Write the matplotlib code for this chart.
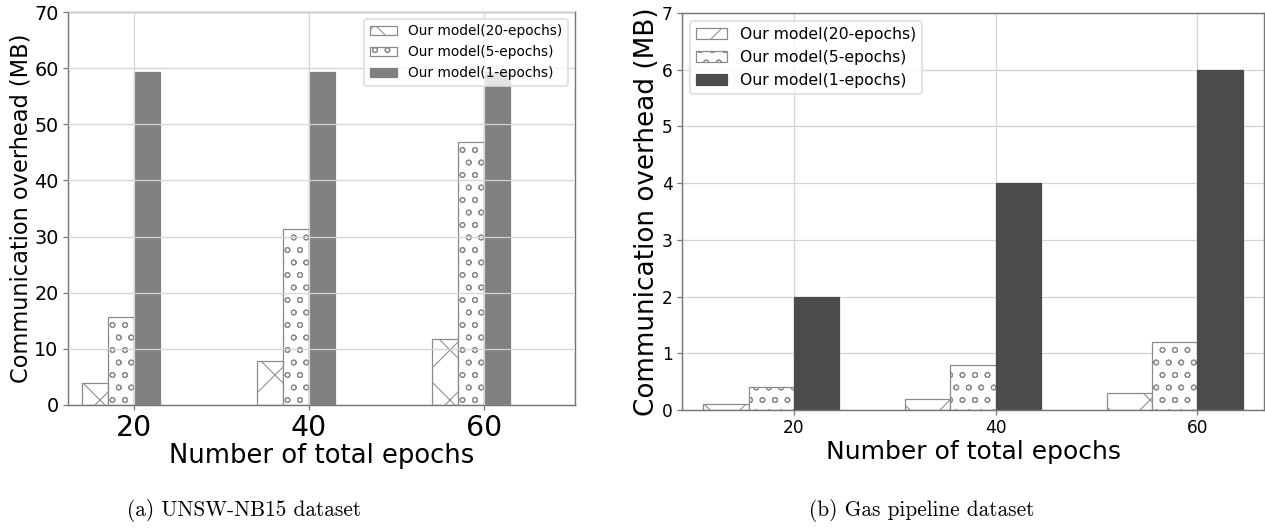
import matplotlib
matplotlib.use('Agg')
import matplotlib.pyplot as plt
import numpy as np

# values
epochs = [20, 40, 60]
labels = ["Our model(20-epochs)", "Our model(5-epochs)", "Our model(1-epochs)"]

unsw_20ep = [3.9, 7.9, 11.8]
unsw_5ep = [15.6, 31.3, 46.9]
unsw_1ep = [59.4, 59.4, 59.4]

gas_20ep = [0.1, 0.2, 0.3]
gas_5ep = [0.4, 0.8, 1.2]
gas_1ep = [2.0, 4.0, 6.0]

DPI = 150
plt.rcParams['hatch.linewidth'] = 0.5
plt.rcParams['font.family'] = ['DejaVu Sans']


def draw(ax, series, width, solid, fs, grid_on_top):
    x = np.array(epochs, dtype=float)
    hatches = ['x', 'oo', None]
    for i, (vals, lab) in enumerate(zip(series, labels)):
        pos = x - (2 - i) * width
        if hatches[i] is None:
            ax.bar(pos, vals, width, align='edge', color=solid, edgecolor=solid,
                   linewidth=0.6, label=lab)
        else:
            ax.bar(pos, vals, width, align='edge', color='white', edgecolor='#8a8a8a',
                   hatch=hatches[i], linewidth=0.6, label=lab)
    ax.set_xticks(epochs)
    ax.grid(True, color='#d4d4d4', linewidth=0.6)
    ax.set_axisbelow(not grid_on_top)
    for s in ax.spines.values():
        s.set_color('#777777')
        s.set_linewidth(0.7)
    ax.set_xlabel("Number of total epochs", fontsize=fs['xl'], labelpad=fs['xpad'])
    ax.set_ylabel("Communication overhead (MB)", fontsize=fs['yl'], labelpad=fs['ypad'])
    ax.tick_params(axis='x', labelsize=fs['xt'], length=2.5, width=0.6, color='#777777', pad=2)
    ax.tick_params(axis='y', labelsize=fs['yt'], length=2.5, width=0.6, color='#777777', pad=2)


fig = plt.figure(figsize=(1265 / DPI, 529 / DPI), dpi=DPI)

ax1 = fig.add_axes([68 / 1265, 124 / 529, 507 / 1265, 393 / 529])
draw(ax1, [unsw_20ep, unsw_5ep, unsw_1ep], 3.0, '#808080',
     dict(xl=12.4, yl=10.8, xt=13.6, yt=9.2, xpad=0.5, ypad=1), True)
ax1.set_xlim(12.45, 70.4)
ax1.set_ylim(0, 70)
ax1.legend(loc='upper right', fontsize=6.6, framealpha=0.8, edgecolor='#dddddd')

ax2 = fig.add_axes([682 / 1265, 119 / 529, 582 / 1265, 397 / 529])
draw(ax2, [gas_20ep, gas_5ep, gas_1ep], 4.5, '#4b4b4b',
     dict(xl=12.0, yl=12.6, xt=8.2, yt=8.2, xpad=1.5, ypad=1), False)
ax2.set_xlim(8.9, 66.6)
ax2.set_ylim(0, 7)
ax2.legend(loc='upper left', fontsize=7.5, framealpha=0.8, edgecolor='#dddddd')

fig.text(244 / 1265, 1 - 510 / 529, "(a) UNSW-NB15 dataset", family='cmr10',
         fontsize=10.2, ha='center', va='center')
fig.text(922 / 1265, 1 - 510 / 529, "(b) Gas pipeline dataset", family='cmr10',
         fontsize=10.2, ha='center', va='center')

fig.savefig("out.png", dpi=DPI)
